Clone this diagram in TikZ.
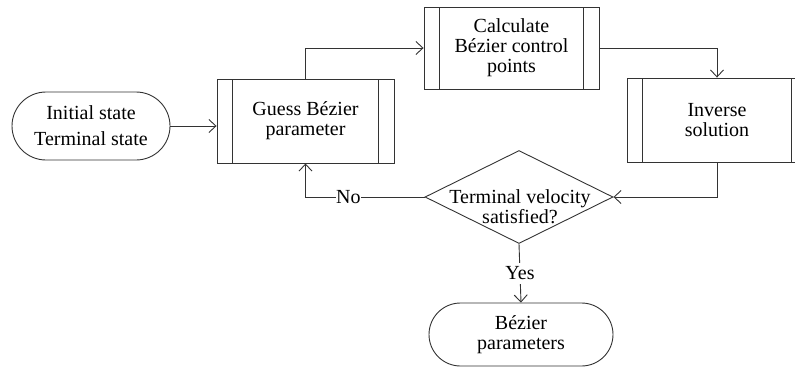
\documentclass[tikz,border=0pt]{standalone}
\usepackage{fontspec}
\setmainfont{Liberation Serif}
\usetikzlibrary{shapes.geometric,shapes.misc,arrows.meta}
\definecolor{ln}{HTML}{333333}
\begin{document}
\begin{tikzpicture}[x=1pt,y=-1pt,line width=0.9pt,
  every node/.style={font=\fontsize{20}{20}\selectfont, text=black},
  term/.style={draw=ln, rounded rectangle, align=center, inner sep=0pt},
  proc/.style={draw=ln, rectangle, align=center, inner sep=0pt,
    path picture={\draw[ln] ([xshift=15.5pt]path picture bounding box.north west) -- ([xshift=15.5pt]path picture bounding box.south west)
      ([xshift=-15.5pt]path picture bounding box.north east) -- ([xshift=-15.5pt]path picture bounding box.south east);}},
  dec/.style={draw=ln, diamond, inner sep=0pt},
  arr/.style={draw=ln, -{Straight Barb[length=7pt,width=13pt]}},
  lbl/.style={fill=white, inner sep=1pt}]
\useasboundingbox (0,0) rectangle (795,368);
\clip (0,0) rectangle (795,368);
\node[term, minimum width=158pt, minimum height=68pt, font=\fontsize{20}{26}\selectfont] (start) at (91,126) {Initial state\\Terminal state};
\node[proc, minimum width=177pt, minimum height=84pt] (guess) at (305.5,121) {Guess Bézier\\parameter};
\node[proc, minimum width=175pt, minimum height=82pt] (calc) at (511.5,48) {Calculate\\Bézier control\\points};
\node[proc, minimum width=180pt, minimum height=84pt] (inv) at (717,120) {Inverse\\solution};
\node[dec, minimum width=188pt, minimum height=93pt] (dec) at (519,197) {};
\node[align=center, inner sep=0pt] (dectext) at (520,207) {Terminal velocity\\satisfied?};
\node[term, minimum width=184pt, minimum height=63pt] (end) at (521,334.5) {Bézier\\parameters};
\draw[arr] (start.east) -- (start.east -| guess.west);
\draw[arr] (guess.north) |- (calc.west);
\draw[arr] (calc.east) -| (inv.north);
\draw[arr] (inv.south) |- (dec.east);
\draw[arr] (dec.west) -| node[lbl, pos=0.32, inner sep=0pt] (no) {No} (guess.south);
\draw[arr] (dec.south) -- node[lbl, inner sep=4pt] (yes) {Yes} (end.north);
\end{tikzpicture}
\end{document}
